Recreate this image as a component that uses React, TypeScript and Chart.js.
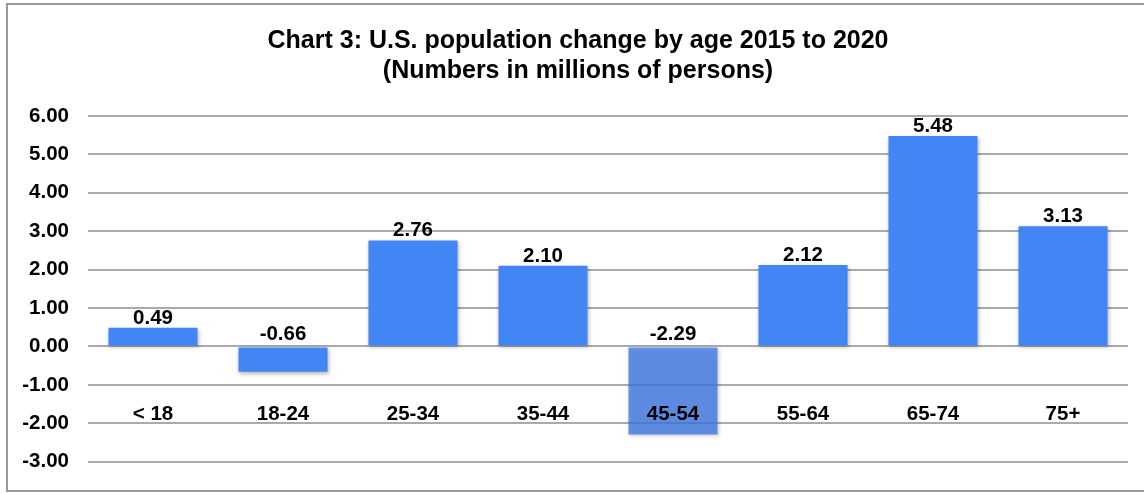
import React, { useEffect, useRef } from "react";
import { Chart, registerables } from "chart.js";

Chart.register(...registerables);

const categories = ["< 18", "18-24", "25-34", "35-44", "45-54", "55-64", "65-74", "75+"];
const changeValues = [0.49, -0.66, 2.76, 2.1, -2.29, 2.12, 5.48, 3.13];
const titleLines = ["Chart 3: U.S. population change by age 2015 to 2020", "(Numbers in millions of persons)"];
const yMin = -3;
const yMax = 6;

const FONT = "'Liberation Sans', Arial, Helvetica, sans-serif";
const barColors = changeValues.map((_, i) => (i === 4 ? "rgba(60,120,230,0.78)" : "rgb(66,133,244)"));

const decorPlugin = {
  id: "decor",
  beforeDraw(chart: any) {
    const ctx = chart.ctx;
    ctx.save();
    ctx.fillStyle = "#ffffff";
    ctx.fillRect(0, 0, chart.width, chart.height);
    ctx.strokeStyle = "#999999";
    ctx.lineWidth = 2;
    ctx.strokeRect(7, 4, chart.width + 20, 487);
    ctx.restore();
  },
  beforeDatasetsDraw(chart: any) {
    const ctx = chart.ctx;
    ctx.save();
    ctx.shadowColor = "rgba(0,0,0,0.28)";
    ctx.shadowBlur = 4;
    ctx.shadowOffsetX = 1;
    ctx.shadowOffsetY = 2;
  },
  afterDatasetsDraw(chart: any) {
    const ctx = chart.ctx;
    ctx.restore();
    const meta = chart.getDatasetMeta(0);
    const yScale = chart.scales.y;
    const zeroY = yScale.getPixelForValue(0);
    ctx.save();
    ctx.fillStyle = "#000000";
    ctx.textAlign = "center";
    ctx.textBaseline = "alphabetic";
    ctx.font = `bold 20.5px ${FONT}`;
    meta.data.forEach((bar: any, i: number) => {
      const v = changeValues[i];
      const y = v >= 0 ? bar.y - 4 : zeroY - 6;
      ctx.fillText(v.toFixed(2), bar.x, y);
    });
    const labelY = yScale.getPixelForValue(-1.78);
    ctx.textBaseline = "middle";
    meta.data.forEach((bar: any, i: number) => {
      ctx.fillText(categories[i], bar.x, labelY);
    });
    ctx.font = `bold 25px ${FONT}`;
    ctx.textBaseline = "alphabetic";
    ctx.fillText(titleLines[0], 578, 48);
    ctx.fillText(titleLines[1], 578, 78);
    ctx.restore();
  },
};

export default function App() {
  const canvasRef = useRef<HTMLCanvasElement | null>(null);
  useEffect(() => {
    if (!canvasRef.current) return;
    const chart = new Chart(canvasRef.current, {
      type: "bar",
      data: {
        labels: categories,
        datasets: [
          {
            data: changeValues,
            backgroundColor: barColors,
            borderWidth: 0,
            barPercentage: 0.685,
            categoryPercentage: 1,
          },
        ],
      },
      options: {
        responsive: false,
        animation: false,
        devicePixelRatio: 1,
        layout: { padding: { top: 116, bottom: 29, left: 0, right: 16 } },
        plugins: {
          legend: { display: false },
          title: { display: false },
          tooltip: { enabled: false },
        },
        scales: {
          x: { display: false },
          y: {
            min: yMin,
            max: yMax,
            border: { display: false },
            grid: { color: "#aaaaaa", lineWidth: 2, drawTicks: false },
            ticks: {
              stepSize: 1,
              padding: 19,
              color: "#000000",
              font: { family: FONT, size: 20.5, weight: "bold" },
              callback: (v: any) => Number(v).toFixed(2),
            },
            afterFit: (scale: any) => {
              scale.width = 88;
            },
          },
        },
      },
      plugins: [decorPlugin],
    });
    return () => chart.destroy();
  }, []);
  return (
    <div style={{ position: "fixed", top: 0, left: 0, width: 1144, height: 493 }}>
      <canvas ref={canvasRef} width={1144} height={493} />
    </div>
  );
}
